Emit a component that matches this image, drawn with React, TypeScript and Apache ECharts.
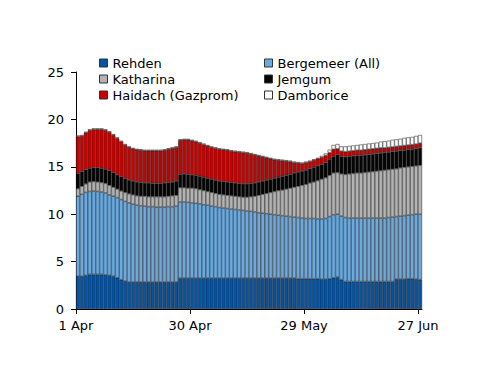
import React, { useEffect, useRef } from "react";
import * as echarts from "echarts";

// Daily values, 1 Apr .. 27 Jun (88 days)
const tickDays = [0, 29, 58, 87];
const tickLabels = ["1 Apr", "30 Apr", "29 May", "27 Jun"];
const yTicks = [0, 5, 10, 15, 20, 25];

const rehden = [
  3.45, 3.45, 3.55, 3.65, 3.65, 3.65, 3.65, 3.6, 3.55, 3.45,
  3.3, 3.1, 2.95, 2.85, 2.85, 2.85, 2.85, 2.85, 2.85, 2.85,
  2.85, 2.85, 2.85, 2.85, 2.85, 2.85, 3.25, 3.25, 3.25, 3.25,
  3.25, 3.25, 3.25, 3.25, 3.25, 3.25, 3.25, 3.25, 3.25, 3.25,
  3.25, 3.25, 3.25, 3.25, 3.25, 3.25, 3.25, 3.25, 3.25, 3.25,
  3.25, 3.25, 3.25, 3.25, 3.25, 3.25, 3.2, 3.2, 3.2, 3.2,
  3.2, 3.2, 3.15, 3.15, 3.2, 3.3, 3.35, 3.1, 2.9, 2.9,
  2.9, 2.9, 2.9, 2.9, 2.9, 2.9, 2.9, 2.9, 2.9, 2.9,
  2.9, 3.15, 3.15, 3.15, 3.2, 3.2, 3.15, 3.1,
];

const bergemeer = [
  8.45, 8.65, 8.75, 8.75, 8.8, 8.75, 8.7, 8.65, 8.5, 8.45,
  8.45, 8.45, 8.4, 8.35, 8.2, 8.1, 8.05, 8.0, 7.95, 7.95,
  7.9, 7.9, 7.9, 7.95, 7.95, 8.0, 8.05, 8.05, 8.0, 7.95,
  7.9, 7.85, 7.75, 7.7, 7.6, 7.55, 7.45, 7.4, 7.35, 7.3,
  7.25, 7.2, 7.15, 7.1, 7.05, 7.0, 6.9, 6.85, 6.8, 6.75,
  6.7, 6.65, 6.6, 6.55, 6.5, 6.45, 6.45, 6.4, 6.35, 6.35,
  6.35, 6.3, 6.35, 6.4, 6.55, 6.65, 6.65, 6.7, 6.75, 6.7,
  6.7, 6.7, 6.7, 6.7, 6.7, 6.7, 6.7, 6.7, 6.7, 6.75,
  6.8, 6.6, 6.65, 6.7, 6.7, 6.75, 6.85, 6.9,
];

const katharina = [
  0.8, 0.85, 0.9, 1.0, 1.0, 1.0, 1.0, 1.0, 1.0, 0.95,
  0.9, 0.9, 0.95, 0.95, 1.0, 1.0, 1.0, 1.05, 1.05, 1.05,
  1.1, 1.1, 1.1, 1.1, 1.15, 1.15, 1.5, 1.5, 1.5, 1.55,
  1.55, 1.5, 1.5, 1.45, 1.45, 1.4, 1.4, 1.4, 1.4, 1.4,
  1.4, 1.4, 1.4, 1.45, 1.55, 1.65, 1.85, 2.0, 2.15, 2.3,
  2.45, 2.6, 2.7, 2.85, 3.0, 3.15, 3.3, 3.45, 3.6, 3.75,
  3.85, 4.05, 4.2, 4.3, 4.35, 4.4, 4.4, 4.45, 4.55, 4.65,
  4.7, 4.75, 4.75, 4.8, 4.85, 4.9, 4.95, 5.0, 5.05, 5.05,
  5.05, 5.05, 5.1, 5.1, 5.1, 5.1, 5.1, 5.15,
];

const jemgum = [
  1.6, 1.55, 1.5, 1.45, 1.45, 1.5, 1.5, 1.5, 1.55, 1.55,
  1.5, 1.5, 1.45, 1.45, 1.45, 1.45, 1.45, 1.4, 1.45, 1.4,
  1.4, 1.4, 1.45, 1.45, 1.45, 1.5, 1.4, 1.45, 1.45, 1.4,
  1.4, 1.4, 1.4, 1.4, 1.4, 1.4, 1.4, 1.4, 1.4, 1.4,
  1.4, 1.4, 1.4, 1.4, 1.4, 1.4, 1.4, 1.4, 1.4, 1.4,
  1.4, 1.4, 1.45, 1.45, 1.45, 1.5, 1.5, 1.5, 1.5, 1.5,
  1.55, 1.55, 1.55, 1.6, 1.7, 1.75, 1.9, 1.85, 1.85, 1.85,
  1.85, 1.85, 1.85, 1.85, 1.85, 1.85, 1.85, 1.85, 1.85, 1.85,
  1.85, 1.85, 1.8, 1.8, 1.8, 1.8, 1.8, 1.85,
];

const haidach = [
  3.9, 3.75, 3.9, 4.0, 4.05, 4.05, 4.1, 4.1, 4.05, 3.95,
  3.85, 3.7, 3.55, 3.45, 3.4, 3.4, 3.4, 3.4, 3.4, 3.45,
  3.45, 3.45, 3.45, 3.5, 3.55, 3.55, 3.6, 3.6, 3.65, 3.6,
  3.55, 3.5, 3.45, 3.4, 3.35, 3.35, 3.35, 3.35, 3.35, 3.3,
  3.3, 3.3, 3.3, 3.25, 3.1, 2.95, 2.75, 2.55, 2.35, 2.15,
  1.95, 1.8, 1.65, 1.5, 1.35, 1.1, 0.95, 0.8, 0.8, 0.75,
  0.75, 0.75, 0.75, 0.75, 0.7, 0.75, 0.6, 0.55, 0.55, 0.55,
  0.55, 0.55, 0.55, 0.55, 0.55, 0.55, 0.55, 0.55, 0.5, 0.5,
  0.5, 0.5, 0.5, 0.5, 0.5, 0.5, 0.5, 0.5,
];

const damborice = [
  0.1, 0.1, 0.1, 0.1, 0.1, 0.1, 0.1, 0.1, 0.1, 0.1,
  0.1, 0.1, 0.1, 0.1, 0.1, 0.1, 0.1, 0.1, 0.1, 0.1,
  0.1, 0.1, 0.1, 0.1, 0.1, 0.1, 0.1, 0.1, 0.1, 0.1,
  0.1, 0.1, 0.1, 0.1, 0.1, 0.1, 0.1, 0.1, 0.1, 0.1,
  0.1, 0.1, 0.1, 0.1, 0.1, 0.1, 0.1, 0.1, 0.1, 0.1,
  0.1, 0.1, 0.1, 0.1, 0.1, 0.1, 0.1, 0.1, 0.1, 0.1,
  0.1, 0.1, 0.15, 0.2, 0.3, 0.45, 0.5, 0.5, 0.55, 0.55,
  0.55, 0.55, 0.6, 0.6, 0.6, 0.6, 0.6, 0.65, 0.7, 0.7,
  0.75, 0.75, 0.75, 0.8, 0.8, 0.8, 0.85, 0.85,
];

const seriesDefs = [
  { name: "Rehden", data: rehden, color: "#0553a3" },
  { name: "Bergemeer (All)", data: bergemeer, color: "#6aaae0" },
  { name: "Katharina", data: katharina, color: "#b3b3b3" },
  { name: "Jemgum", data: jemgum, color: "#050505" },
  { name: "Haidach (Gazprom)", data: haidach, color: "#c80000" },
  { name: "Damborice", data: damborice, color: "#ffffff" },
];

const FONT = "DejaVu Sans";

export default function App() {
  const ref = useRef<HTMLDivElement>(null);
  useEffect(() => {
    document.body.style.margin = "0";
    if (!ref.current) return;
    const chart = echarts.init(ref.current, null, { renderer: "svg" });
    const dayCats = rehden.map((_, i) => String(i));
    const legendCommon = {
      orient: "vertical",
      top: 50,
      itemWidth: 8,
      itemHeight: 8,
      itemGap: 0,
      icon: "rect",
      selectedMode: false,
      itemStyle: { borderColor: "#333", borderWidth: 1 },
      textStyle: { fontFamily: FONT, fontSize: 13, color: "#000", lineHeight: 16 },
    };
    chart.setOption({
      animation: false,
      backgroundColor: "#fff",
      textStyle: { fontFamily: FONT },
      legend: [
        { ...legendCommon, left: 94, data: ["Rehden", "Katharina", "Haidach (Gazprom)"] },
        { ...legendCommon, left: 259, data: ["Bergemeer (All)", "Jemgum", "Damborice"] },
      ],
      grid: { left: 76, top: 72, width: 346, height: 237, containLabel: false },
      xAxis: [
        {
          type: "category",
          data: dayCats,
          boundaryGap: true,
          axisLine: { show: true, lineStyle: { color: "#000", width: 1 } },
          axisTick: { show: false },
          axisLabel: { show: false },
          splitLine: { show: false },
        },
        {
          type: "value",
          position: "bottom",
          min: 0,
          max: rehden.length,
          splitLine: { show: false },
          axisLine: { show: false },
          axisTick: {
            show: true,
            length: 5,
            customValues: tickDays,
            lineStyle: { color: "#000" },
          },
          axisLabel: {
            customValues: tickDays,
            formatter: (v: number) => tickLabels[tickDays.indexOf(v)] ?? "",
            fontFamily: FONT,
            fontSize: 13,
            color: "#000",
            margin: 10,
          },
        },
      ],
      yAxis: {
        type: "value",
        min: 0,
        max: 25,
        interval: 5,
        splitLine: { show: false },
        axisLine: { show: true, lineStyle: { color: "#000", width: 1 } },
        axisTick: { show: true, length: 5, lineStyle: { color: "#000" } },
        axisLabel: {
          fontFamily: FONT,
          fontSize: 13,
          color: "#000",
          margin: 12,
          formatter: (v: number) => (yTicks.includes(v) ? String(v) : ""),
        },
      },
      series: seriesDefs.map((s) => ({
        name: s.name,
        type: "bar",
        stack: "total",
        xAxisIndex: 0,
        barCategoryGap: "0%",
        data: s.data,
        itemStyle: { color: s.color, borderColor: "#1a1a1a", borderWidth: 0.5 },
        emphasis: { disabled: true },
      })),
    });
    return () => chart.dispose();
  }, []);
  return <div ref={ref} style={{ width: 500, height: 386 }} />;
}
